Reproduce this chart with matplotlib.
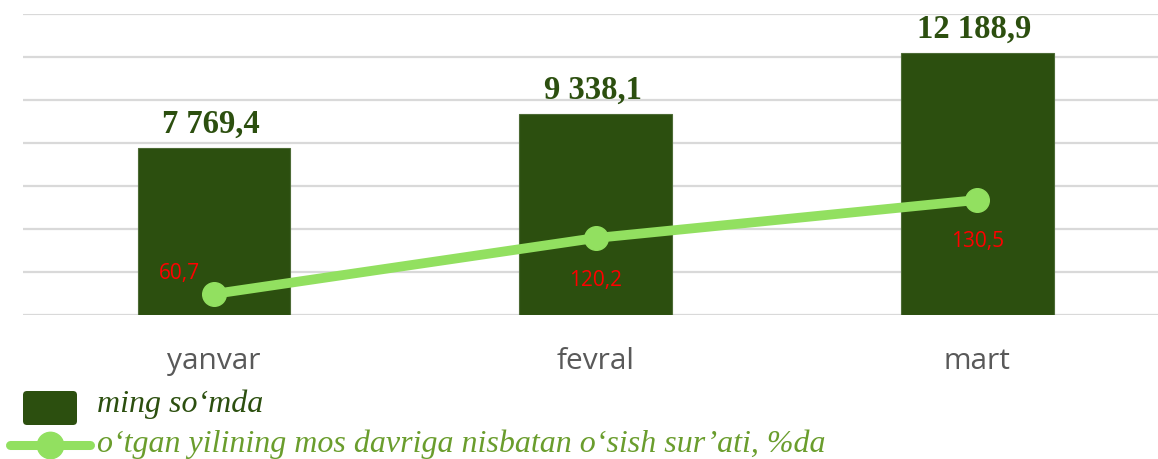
import matplotlib
matplotlib.use('Agg')
import matplotlib.pyplot as plt
from matplotlib.patches import FancyBboxPatch
from matplotlib.lines import Line2D
from matplotlib.transforms import IdentityTransform

# ---- data ----
categories = ['yanvar', 'fevral', 'mart']
amounts = [7769.4, 9338.1, 12188.9]
amount_labels = ['7 769,4', '9 338,1', '12 188,9']
growth_rates = [60.7, 120.2, 130.5]
growth_labels = ['60,7', '120,2', '130,5']
# drawn heights of the growth line (bar-axis units)
growth_line_pos = [977, 3580, 5350]
legend_bar = 'ming so‘mda'
legend_line = 'o‘tgan yilining mos davriga nisbatan o‘sish sur’ati, %da'

W, H = 1158, 460
fig = plt.figure(figsize=(W / 100, H / 100), dpi=100)


def fx(px):
    return px / W


def fy(py):
    return 1 - py / H


bar_color = '#2c4f0f'
line_color = '#92e060'

ax = fig.add_axes([fx(23), fy(316), fx(1168) - fx(23), fy(15) - fy(316)])
x = list(range(len(categories)))
ax.bar(x, amounts, width=0.4, color=bar_color, edgecolor='#4d6b36',
       linewidth=0.8, zorder=2)
ax.set_xlim(-0.5, 2.5)
ax.set_ylim(0, 14000)
ax.set_yticks(range(0, 14001, 2000))
ax.yaxis.grid(True, color='#d9d9d9', linewidth=1.6, zorder=0)
ax.set_axisbelow(True)
for s in ax.spines.values():
    s.set_visible(False)
ax.tick_params(axis='y', left=False, labelleft=False)
ax.tick_params(axis='x', bottom=False, pad=19, labelsize=21.5, labelcolor='#595959')
ax.set_xticks(x)
ax.set_xticklabels(categories, fontfamily='Open Sans')

for xi, v, lab in zip(x, amounts, amount_labels):
    ax.annotate(lab, (xi, v), xytext=(-2, 11.5), textcoords='offset points',
                ha='center', va='baseline', fontsize=23.5, fontweight='bold',
                fontfamily='Liberation Serif', color=bar_color, zorder=4)

ax.plot(x, growth_line_pos, color=line_color, lw=7, marker='o', ms=17,
        zorder=3, solid_capstyle='round')

offsets = [(-24.5, 15.8), (0, -30), (0, -29)]
for xi, v, lab, off in zip(x, growth_line_pos, growth_labels, offsets):
    ax.annotate(lab, (xi, v), xytext=off, textcoords='offset points',
                ha='center', va='center', fontsize=15, fontfamily='Open Sans',
                color='#ff0000', zorder=5)

# ---- legend ----
idt = IdentityTransform()
rect = FancyBboxPatch((23, H - 426), 54, 34, boxstyle='round,pad=0,rounding_size=4',
                      facecolor=bar_color, edgecolor='none', transform=idt)
fig.patches.append(rect)
fig.text(fx(97), fy(412), legend_bar, fontsize=23, style='italic',
         fontfamily='Liberation Serif', color=bar_color, va='baseline')

ly = H - 446
fig.lines.append(Line2D([10, 90], [ly, ly], color=line_color, lw=6.5,
                        solid_capstyle='round', transform=idt))
fig.lines.append(Line2D([50], [ly], color=line_color, marker='o', ms=19,
                        transform=idt))
fig.text(fx(97), fy(452.5), legend_line, fontsize=23, style='italic',
         fontfamily='Liberation Serif', color='#6a9d2d', va='baseline')

fig.savefig('out.png', dpi=100)
